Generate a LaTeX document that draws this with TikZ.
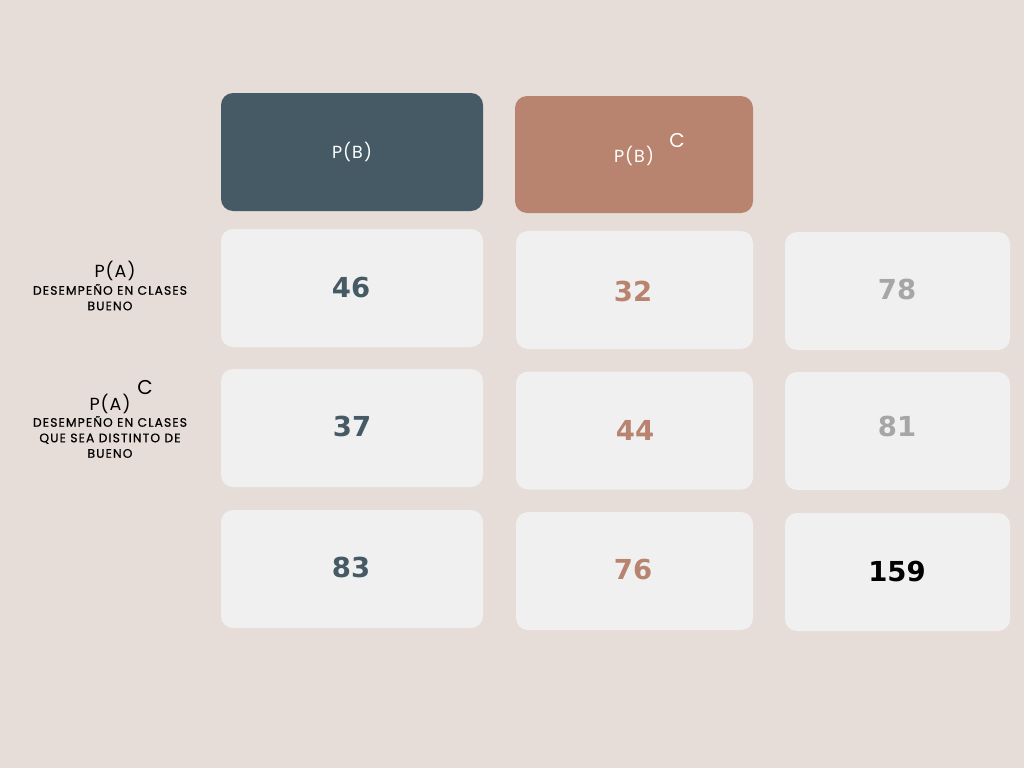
\documentclass[tikz,border=0pt]{standalone}
\usepackage{fontspec}
\setmainfont{Liberation Sans}
\newfontfamily\labfont[LetterSpace=6]{Poppins}
\newfontfamily\smallfont[LetterSpace=9,FakeBold=0.6]{Poppins}
\newfontfamily\numfont{DejaVu Sans}
\definecolor{bg}{HTML}{E6DDD8}
\definecolor{slate}{HTML}{455A64}
\definecolor{terra}{HTML}{B8846F}
\definecolor{cellc}{HTML}{F0F0F0}
\definecolor{grayn}{HTML}{A6A6A6}
\begin{document}
\begin{tikzpicture}[x=1pt,y=-1pt,
  cell/.style={rectangle,rounded corners=12pt,fill=cellc,inner sep=0pt,minimum width=#1,minimum height=118pt},
  hdr/.style={rectangle,rounded corners=12pt,inner sep=0pt,minimum height=118pt},
  num/.style={font=\numfont\fontsize{27.5}{30}\selectfont\bfseries},
  htxt/.style={text=white,font=\labfont\fontsize{17.5}{19}\selectfont},
  lab/.style={align=center,font=\smallfont\fontsize{12.3}{15.5}\selectfont,inner sep=0pt},
  labt/.style={font=\labfont\fontsize{17.5}{19}\selectfont,inner sep=0pt}]
\fill[bg] (0,0) rectangle (1024,768);
\useasboundingbox (0,0) rectangle (1024,768);
% headers
\node[hdr,fill=slate,minimum width=262pt] (hb) at (352,152) {};
\node[hdr,fill=terra,minimum width=238pt,minimum height=117pt] (hbc) at (634,154.5) {};
\node[htxt] (tb) at (352,152) {P(B)};
\node[htxt] (tbc) at (634,156) {P(B)};
\node[text=white,font=\labfont\fontsize{20}{22}\selectfont] (cb) at (677,140) {C};
% row 1
\node[cell=262pt] (c11) at (352,288) {};
\node[cell=237pt] (c12) at (634.5,290) {};
\node[cell=225pt] (c13) at (897.5,291) {};
\node[num,text=slate] (n11) at (351,287) {46};
\node[num,text=terra] (n12) at (633,291) {32};
\node[num,text=grayn] (n13) at (897,289) {78};
% row 2
\node[cell=262pt] (c21) at (352,428) {};
\node[cell=237pt] (c22) at (634.5,430.5) {};
\node[cell=225pt] (c23) at (897.5,431) {};
\node[num,text=slate] (n21) at (352,426) {37};
\node[num,text=terra] (n22) at (635,430) {44};
\node[num,text=grayn] (n23) at (897,426) {81};
% row 3
\node[cell=262pt] (c31) at (352,569) {};
\node[cell=237pt] (c32) at (634.5,571) {};
\node[cell=225pt] (c33) at (897.5,572) {};
\node[num,text=slate] (n31) at (351,567) {83};
\node[num,text=terra] (n32) at (633,569) {76};
\node[num,text=black] (n33) at (897,571) {159};
% left labels
\node[labt] (pa) at (115,271) {P(A)};
\node[lab,anchor=north] (la) at (110,284) {DESEMPEÑO EN CLASES\\BUENO};
\node[font=\labfont\fontsize{20}{22}\selectfont,inner sep=0pt] (ca) at (145,387) {C};
\node[labt] (pac) at (110,404) {P(A)};
\node[lab,anchor=north] (lac) at (110,416) {DESEMPEÑO EN CLASES\\QUE SEA DISTINTO DE\\BUENO};
\end{tikzpicture}
\end{document}
